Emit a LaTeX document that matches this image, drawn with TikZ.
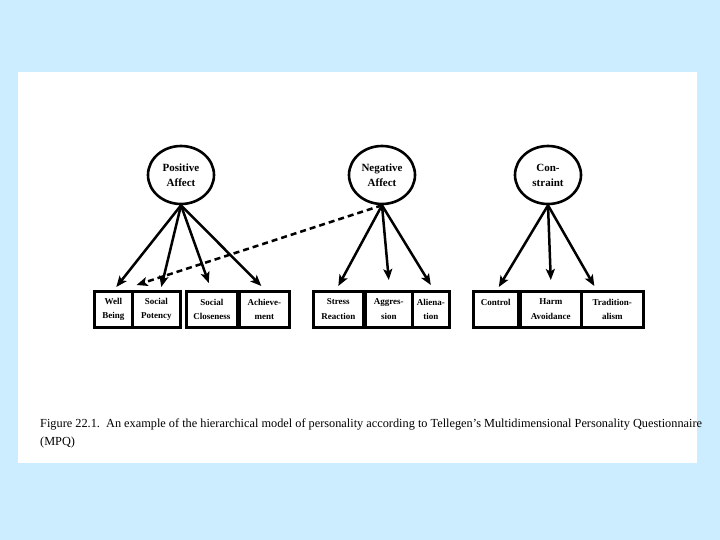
\documentclass[tikz,border=0pt]{standalone}
\usepackage{fontspec}
\setmainfont{Liberation Serif}
\usetikzlibrary{arrows.meta,shapes.geometric}
\definecolor{slidebg}{HTML}{CCECFF}

\begin{document}
\begin{tikzpicture}[
  x=1pt, y=-1pt,
  >={Stealth[length=11pt,width=9pt,inset=2.5pt]},
  factor/.style={draw, ellipse, line width=2.6pt, minimum width=66pt,
              minimum height=58pt, inner sep=0pt, align=center,
              font=\fontsize{11}{15}\selectfont\bfseries},
  trait/.style={draw, line width=2.6pt, minimum height=36pt, anchor=north west,
              inner sep=1pt, align=center,
              font=\fontsize{9}{14.5}\selectfont\bfseries},
  arr/.style={->, line width=2.5pt},
  link/.style={->, line width=2.5pt, dash pattern=on 6pt off 4pt},
]
\useasboundingbox (0,0) rectangle (720,540);
\fill[slidebg] (0,0) rectangle (720,540);
\fill[white] (18,72) rectangle (697,463);

\node[factor] (pa) at (181,175) {Positive\\Affect};
\node[factor] (na) at (382,175) {Negative\\Affect};
\node[factor] (cs) at (548,175) {Con-\\straint};

\node[trait, minimum width=38pt] (wb) at (93,290) {Well\\Being};
\node[trait, minimum width=48pt] (sp) at (131,290) {Social\\Potency};
\node[trait, minimum width=51pt] (sc) at (185,290) {Social\\Closeness};
\node[trait, minimum width=50pt] (ac) at (238,290) {Achieve-\\ment};

\node[trait, minimum width=50pt] (st) at (312,290) {Stress\\Reaction};
\node[trait, minimum width=47pt] (ag) at (364,290) {Aggres-\\sion};
\node[trait, minimum width=37pt] (al) at (411,290) {Aliena-\\tion};

\node[trait, minimum width=45pt] (co) at (472,290) {Control\\~};
\node[trait, minimum width=61pt] (ha) at (519,290) {Harm\\Avoidance};
\node[trait, minimum width=62pt] (tr) at (580,290) {Tradition-\\alism};

\draw[arr] (pa.south) -- ([xshift=3pt,yshift=3pt]wb.north);
\draw[arr] (pa.south) -- ([xshift=5pt,yshift=3pt]sp.north);
\draw[arr] (pa.south) -- ([xshift=-3pt,yshift=7pt]sc.north);
\draw[arr] (pa.south) -- ([xshift=-3pt,yshift=4pt]ac.north);

\draw[arr] (na.south) -- ([yshift=4pt]st.north);
\draw[arr] (na.south) -- ([yshift=10pt]ag.north);
\draw[arr] (na.south) -- ([yshift=5pt]al.north);
\draw[link] (na.south) -- ([xshift=3pt,yshift=5pt]wb.north east);

\draw[arr] (cs.south) -- ([xshift=3pt,yshift=3pt]co.north);
\draw[arr] (cs.south) -- ([yshift=10pt]ha.north);
\draw[arr] (cs.south) -- ([xshift=-18pt,yshift=4pt]tr.north);

\node[anchor=north west, align=left, inner sep=0pt,
      font=\fontsize{12.3}{18}\selectfont] (cap) at (40,419)
  {Figure 22.1.~~An example of the hierarchical model of personality according to Tellegen’s Multidimensional Personality Questionnaire\\(MPQ)};

\end{tikzpicture}
\end{document}
